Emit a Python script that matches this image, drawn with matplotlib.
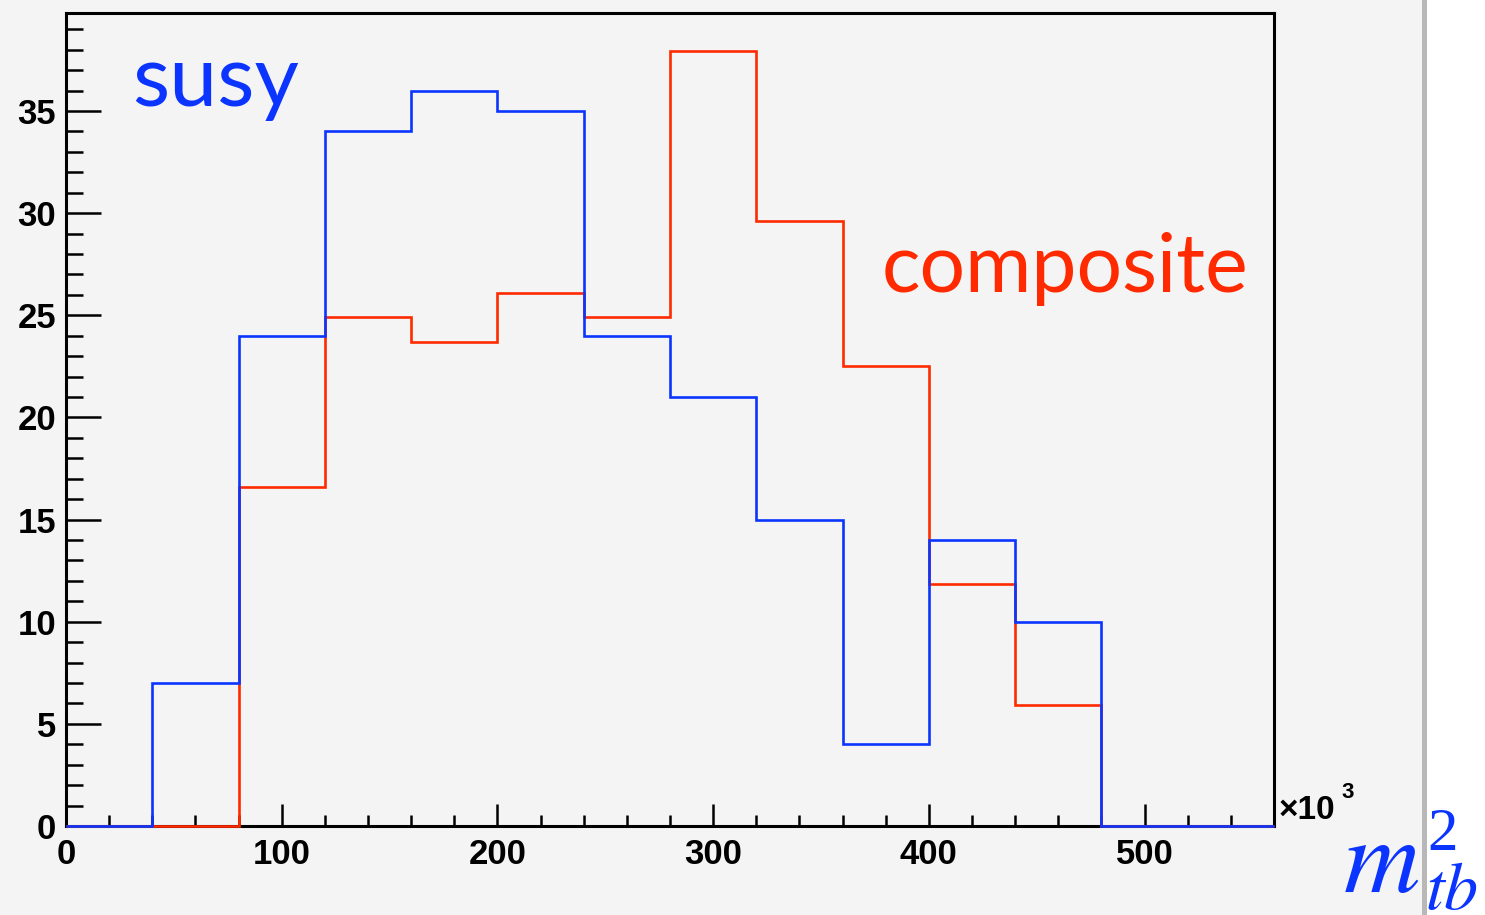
import numpy as np
import matplotlib
matplotlib.use("Agg")
import matplotlib.pyplot as plt
from matplotlib.patches import Rectangle
from matplotlib.ticker import MultipleLocator

# bin edges in units of 10^3
edges = np.arange(0, 561, 40)
susy = [0, 7, 24, 34, 36, 35, 24, 21, 15, 4, 14, 10, 0, 0]
composite = [0, 0, 16.6, 24.9, 23.7, 26.1, 24.9, 37.95, 29.6, 22.5, 11.85, 5.9, 0, 0]
xticks = [0, 100, 200, 300, 400, 500]
yticks = [0, 5, 10, 15, 20, 25, 30, 35]

BLUE = "#0b35ff"
RED = "#ff2a00"
BG = "#f4f4f4"

plt.rcParams["font.family"] = ["Liberation Sans", "DejaVu Sans"]
plt.rcParams["mathtext.fontset"] = "stix"

fig = plt.figure(figsize=(14.85, 9.15), dpi=100, facecolor=BG)
# page edge on the right: grey strip then white
fig.patches.append(Rectangle((1427 / 1485, 0), 1 - 1427 / 1485, 1, transform=fig.transFigure,
                             facecolor="white", edgecolor="none", zorder=0))
fig.patches.append(Rectangle((1422 / 1485, 0), 5 / 1485, 1, transform=fig.transFigure,
                             facecolor="#b8b8b8", edgecolor="none", zorder=0))

ax = fig.add_axes([66 / 1485, 1 - 826 / 915, (1274 - 66) / 1485, (826 - 13) / 915])
ax.set_facecolor(BG)

ax.stairs(composite, edges, color=RED, lw=1.9, zorder=3, clip_on=False)
ax.stairs(susy, edges, color=BLUE, lw=1.9, zorder=4, clip_on=False)

ax.set_xlim(0, 560)
ax.set_ylim(0, 39.8)

for s in ax.spines.values():
    s.set_linewidth(2.2)
    s.set_color("black")

ax.set_xticks(xticks)
ax.set_yticks(yticks)
ax.xaxis.set_minor_locator(MultipleLocator(20))
ax.yaxis.set_minor_locator(MultipleLocator(1))
ax.tick_params(axis="x", which="major", direction="in", length=16, width=1.8, pad=9)
ax.tick_params(axis="x", which="minor", direction="in", length=8, width=1.8)
ax.tick_params(axis="y", which="major", direction="in", length=25, width=1.8, pad=7)
ax.tick_params(axis="y", which="minor", direction="in", length=12.5, width=1.8)
ax.set_xticklabels([str(v) for v in xticks], fontsize=25, fontweight="bold")
ax.set_yticklabels([str(v) for v in yticks], fontsize=25, fontweight="bold")

ax.text(1.004, 0.0, "\u00d710", transform=ax.transAxes, fontsize=24, fontweight="bold",
        ha="left", va="bottom")
ax.text(1.056, 0.028, "3", transform=ax.transAxes, fontsize=16, fontweight="bold",
        ha="left", va="bottom")

ax.text(0.055, 0.915, "susy", transform=ax.transAxes, fontsize=62, color=BLUE,
        family="Lato", ha="left", va="center")
ax.text(0.675, 0.685, "composite", transform=ax.transAxes, fontsize=58, color=RED,
        family="Lato", ha="left", va="center")

# axis title m_tb^2, built from three pieces like the ROOT latex label
fig.text(1343 / 1485, 1 - 892 / 915, r"$m$", fontsize=76, color=BLUE,
         ha="left", va="baseline")
fig.text(1427 / 1485, 1 - 850 / 915, "2", fontsize=44, color=BLUE,
         family="Liberation Serif", ha="left", va="baseline")
fig.text(1425 / 1485, 1 - 909 / 915, r"$tb$", fontsize=49, color=BLUE,
         ha="left", va="baseline")

fig.savefig("out.png", dpi=100, facecolor=BG)
